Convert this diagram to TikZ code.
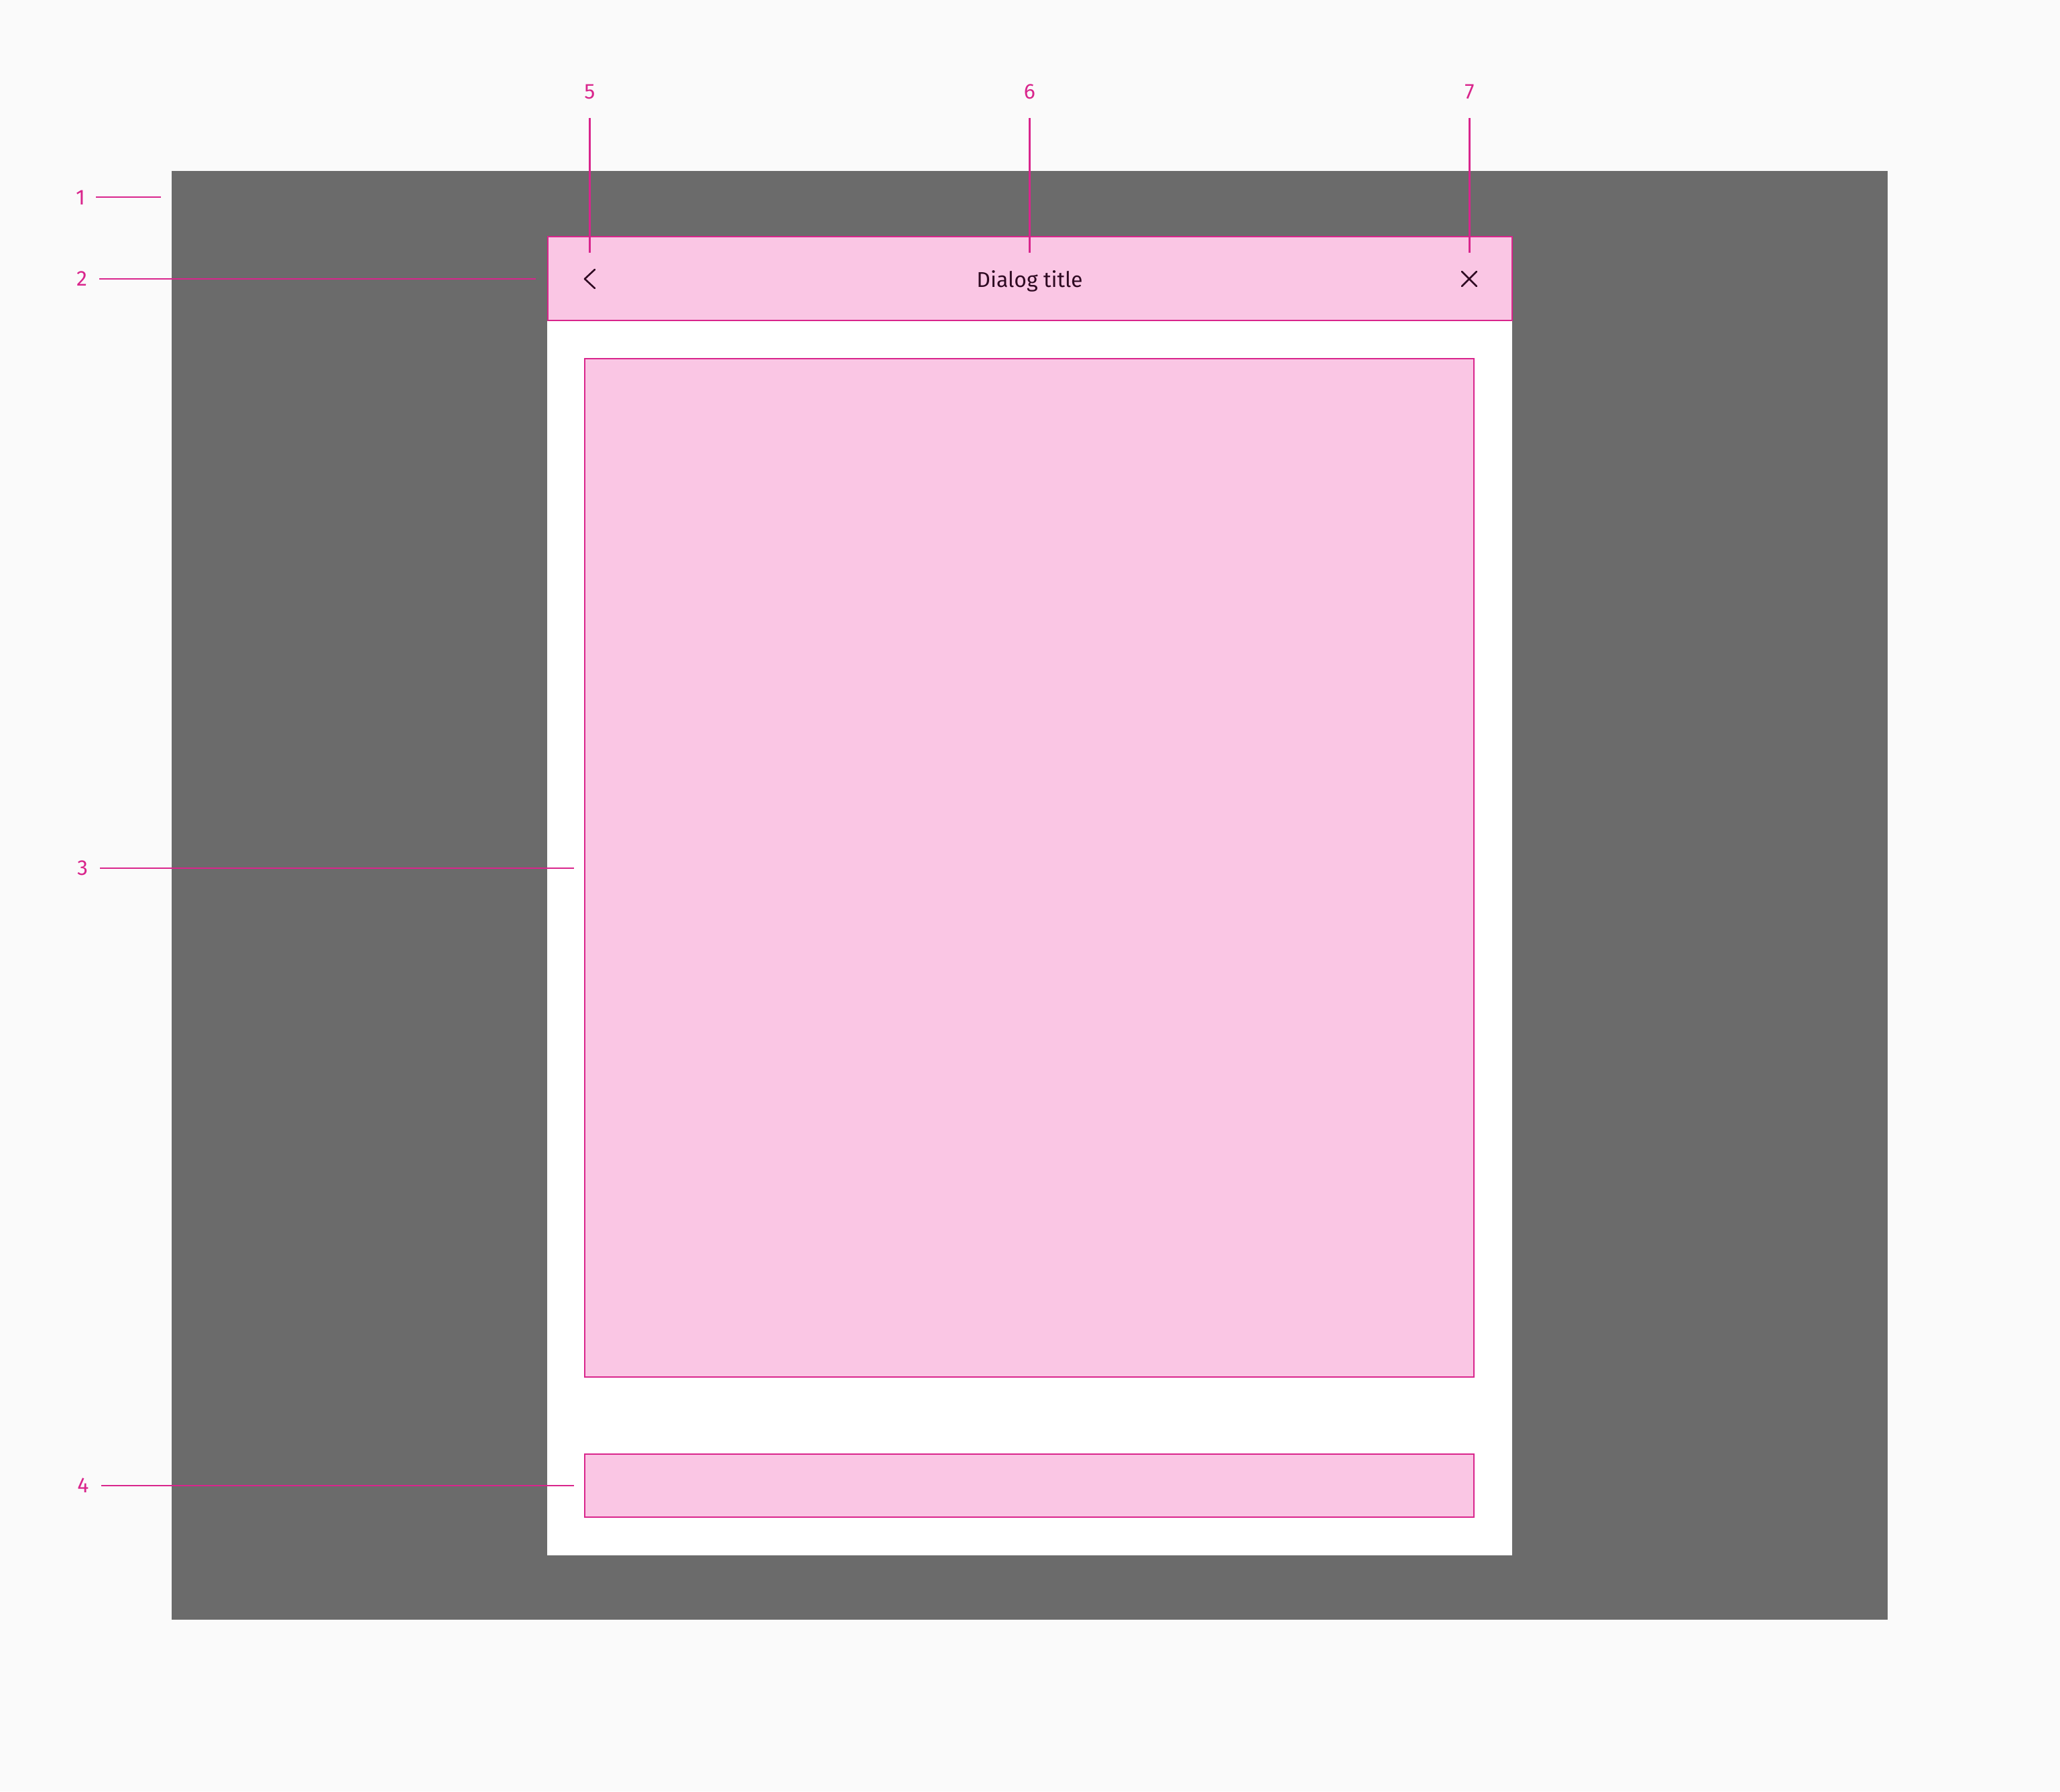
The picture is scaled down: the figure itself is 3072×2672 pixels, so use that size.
\documentclass[tikz,border=0pt]{standalone}
\usepackage{fontspec}
\setmainfont{Fira Sans}
\definecolor{bg}{HTML}{FAFAFA}
\definecolor{scrim}{HTML}{6B6B6B}
\definecolor{mag}{HTML}{D9258C}
\definecolor{pinkfill}{HTML}{FAC6E4}
\definecolor{ink}{HTML}{2E0A22}
\begin{document}
\begin{tikzpicture}[x=1pt,y=-1pt,
  lbl/.style={text=mag, font=\fontsize{32}{38}\selectfont, inner sep=0pt},
  lead/.style={draw=mag, line width=2.2pt},
  zone/.style={draw=mag, fill=pinkfill, line width=2.5pt, inner sep=0pt, outer sep=0pt},
  icon/.style={draw=ink, line width=2.6pt, line cap=round, line join=round},
]
\fill[bg] (0,0) rectangle (3072,2672);
\useasboundingbox (0,0) rectangle (3072,2672);
% scrim and dialog surface
\node[fill=scrim, minimum width=2559pt, minimum height=2161pt, inner sep=0pt] (scrimbox) at (1535.5,1335.5) {};
\node[fill=white, minimum width=1439pt, minimum height=1967pt, inner sep=0pt] (dialog) at (1535.5,1336.5) {};
% zones
\node[zone, minimum width=1438pt, minimum height=125pt] (header) at (1536,415.5) {};
\node[zone, minimum width=1326pt, minimum height=1519pt] (content) at (1535,1294.5) {};
\node[zone, minimum width=1326pt, minimum height=94pt] (footer) at (1535,2216) {};
% header contents
\node[text=ink, font=\fontsize{32}{38}\selectfont, inner sep=0pt, anchor=base] (title) at (1535.5,428) {Dialog title};
\draw[icon] (887,402) -- (872,416) -- (887,430);
\draw[icon] (2180,405) -- (2202,427) (2180,427) -- (2202,405);
% labels
\node[lbl] (l1) at (120,295) {1};
\node[lbl] (l2) at (122,416) {2};
\node[lbl] (l3) at (123,1295) {3};
\node[lbl] (l4) at (124,2216) {4};
\node[lbl] (l5) at (879.5,137) {5};
\node[lbl] (l6) at (1535.5,137) {6};
\node[lbl] (l7) at (2191.5,137) {7};
% leader end points
\coordinate (e1) at (240,294);
\coordinate (e2) at (799,416);
\coordinate (e3) at (856,1295);
\coordinate (e4) at (856,2216);
\coordinate (e5) at (879.5,377);
\coordinate (e6) at (1535.5,377);
\coordinate (e7) at (2191.5,377);
% leaders
\draw[lead] ([xshift=16pt]l1.east |- e1) -- (e1);
\draw[lead] ([xshift=18pt]l2.east |- e2) -- (e2);
\draw[lead] ([xshift=18pt]l3.east |- e3) -- (e3);
\draw[lead] ([xshift=18pt]l4.east |- e4) -- (e4);
\draw[lead] ([yshift=-28pt]l5.south) -- (e5);
\draw[lead] ([yshift=-28pt]l6.south) -- (e6);
\draw[lead] ([yshift=-28pt]l7.south) -- (e7);
\end{tikzpicture}
\end{document}
